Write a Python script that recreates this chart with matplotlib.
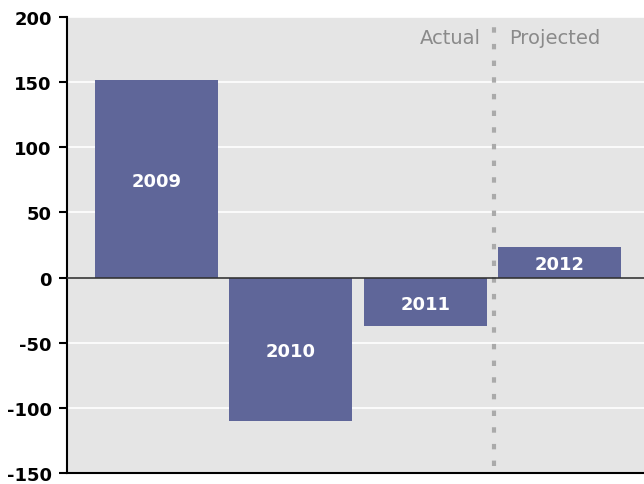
import matplotlib.pyplot as plt

years = ['2009', '2010', '2011', '2012']
values = [151.5, -110, -37.5, 23.5]
yticks = [-150, -100, -50, 0, 50, 100, 150, 200]

plt.rcParams['font.family'] = ['DejaVu Sans']

fig = plt.figure(figsize=(6.44, 4.85), dpi=100)
ax = fig.add_axes([0.104, 0.0227, 0.896, 0.9403])
ax.set_facecolor('#e5e5e5')

x = list(range(len(years)))
ax.bar(x, values, width=0.915, color='#5f6699', zorder=3)
for xi, v, yr in zip(x, values, years):
    ax.text(xi, v / 2 - 1.5, yr, ha='center', va='center', color='white',
            fontsize=13, fontweight='bold', zorder=4)

ax.set_xlim(-0.665, 3.625)
ax.set_ylim(-150, 200)
ax.set_yticks(yticks)
ax.set_yticklabels([str(t) for t in yticks], fontsize=13, fontweight='bold')
ax.set_xticks([])
ax.grid(axis='y', color='white', linewidth=1.2, zorder=1)
ax.axhline(0, color='#333333', linewidth=1.2, zorder=5)

# actual vs projected split
ax.axvline(2.51, ymin=0.015, ymax=1, color='#aaaaaa', linewidth=3,
           linestyle=(0, (1.3, 2.7)), zorder=2)
ax.text(2.415, 184, 'Actual', ha='right', va='center', color='#8a8a8a', fontsize=14)
ax.text(2.625, 184, 'Projected', ha='left', va='center', color='#8a8a8a', fontsize=14)

for s in ['top', 'right']:
    ax.spines[s].set_visible(False)
ax.spines['left'].set_linewidth(1.5)
ax.spines['bottom'].set_linewidth(1.5)
ax.tick_params(axis='y', length=6, width=1.5, pad=5)

fig.savefig('out.png', dpi=100)
